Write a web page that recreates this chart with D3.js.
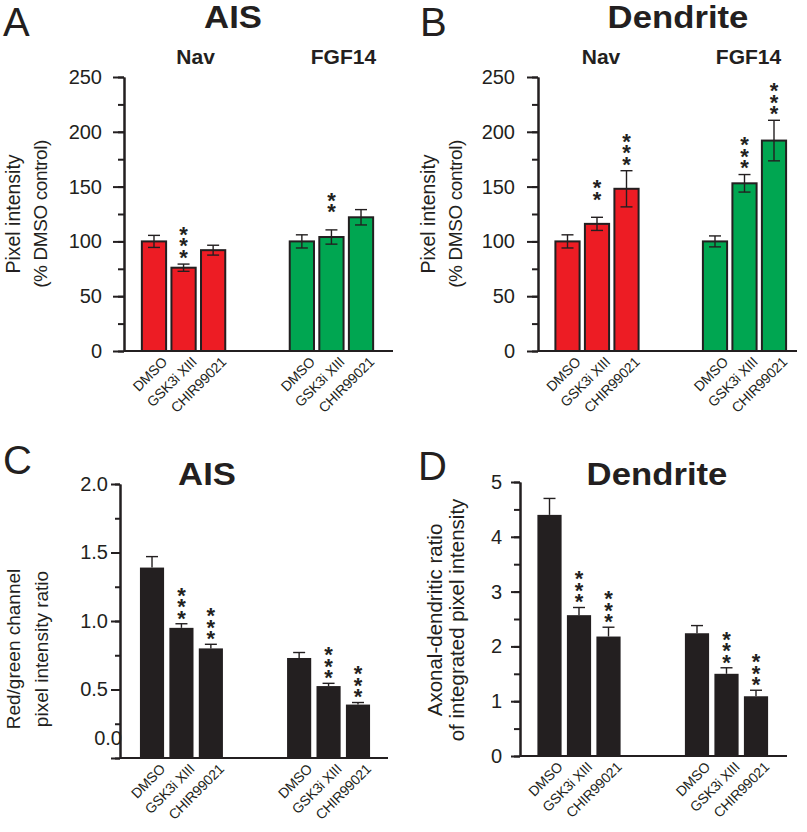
<!DOCTYPE html>
<html>
<head>
<meta charset="utf-8">
<script src="https://cdn.jsdelivr.net/npm/d3@7"></script>
<style>
  html, body { margin: 0; padding: 0; background: #fff; }
  svg { display: block; }
</style>
</head>
<body>
<div id="chart"></div>
<script>
// ── Data ─────────────────────────────────────────────────────────
const treatments = ["DMSO", "GSK3i XIII", "CHIR99021"];
const channels   = ["Nav", "FGF14"];

// A: AIS pixel intensity (% DMSO control), Nav x3 then FGF14 x3
const aisMean  = [100, 76, 92, 100, 104, 122];
const aisErr   = [5.5, 3.3, 4.5, 6, 6.5, 7];
const aisStars = [0, 3, 0, 0, 2, 0];

// B: Dendrite pixel intensity (% DMSO control)
const dendMean  = [100, 116, 148, 100, 153, 192];
const dendErr   = [6, 6, 16.5, 5, 8, 18.5];
const dendStars = [0, 2, 3, 0, 3, 3];

// C: AIS red/green channel ratio
const ratioMean  = [1.39, 0.95, 0.80, 0.73, 0.525, 0.39];
const ratioErr   = [0.08, 0.03, 0.03, 0.04, 0.02, 0.015];
const ratioStars = [0, 3, 3, 0, 3, 3];

// D: axonal-dendritic ratio
const axdMean  = [4.4, 2.57, 2.18, 2.24, 1.5, 1.09];
const axdErr   = [0.3, 0.14, 0.17, 0.14, 0.11, 0.11];
const axdStars = [0, 3, 3, 0, 3, 3];

const ticksPct   = [0, 50, 100, 150, 200, 250];
const ticksRatio = [0, 0.5, 1.0, 1.5, 2.0];
const ticksAxd   = [0, 1, 2, 3, 4, 5];

// ── Style ────────────────────────────────────────────────────────
const ink   = "#231f20";
const red   = "#ed1c24";
const green = "#00a651";
const font  = "'Liberation Sans', Arial, Helvetica, sans-serif";

const svg = d3.select("#chart").append("svg").attr("width", 807).attr("height", 832);

// 6 bars sit in 8 slots: two empty slots separate the groups
const slots = ["b0", "b1", "b2", "s0", "s1", "b3", "b4", "b5"];
const slotOf = i => "b" + i;

const panels = [
    { letter: "A", lx: 3, ly: 36, title: "AIS", tx: 233, ty: 28,
      mean: aisMean, err: aisErr, stars: aisStars, colored: true, twoSided: true,
      ticks: ticksPct, minor: 25, fmt: d3.format("d"),
      axisX: 124, axisEnd: 393, y0: 351, yTop: 77, xr: [139.2, 375.8],
      labelPad: 11, majorLen: 11, minorLen: 6,
      ylab: ["Pixel intensity", "(% DMSO control)"], ylabX: [20, 46.5], ylabY: 214,
      ylabSize: [19.5, 19], ylabLs: [0, -0.4],
      groupDx: 12, starGap: 12, starStep: 11.5 },
    { letter: "B", lx: 420, ly: 36, title: "Dendrite", tx: 678, ty: 28,
      mean: dendMean, err: dendErr, stars: dendStars, colored: true, twoSided: true,
      ticks: ticksPct, minor: 25, fmt: d3.format("d"),
      axisX: 538, axisEnd: 797, y0: 351, yTop: 77, xr: [552.75, 788.75],
      labelPad: 12, majorLen: 11, minorLen: 6,
      ylab: ["Pixel intensity", "(% DMSO control)"], ylabX: [435, 462], ylabY: 214,
      ylabSize: [19.5, 19], ylabLs: [0, -0.4],
      groupDx: 4, starGap: 12, starStep: 11.5 },
    { letter: "C", lx: 3, ly: 474, title: "AIS", tx: 207, ty: 485,
      mean: ratioMean, err: ratioErr, stars: ratioStars, colored: false, twoSided: false,
      ticks: ticksRatio, minor: 0.25, fmt: d3.format(".1f"),
      axisX: 120, axisEnd: 388, y0: 758, yTop: 484, xr: [137.3, 372.7],
      labelPad: 3, majorLen: 9, minorLen: 5, zeroShift: [14, -20],
      ylab: ["Red/green channel", "pixel intensity ratio"], ylabX: [20, 48], ylabY: 649,
      ylabSize: [19, 19], ylabLs: [0, 0],
      starGap: 11, starStep: 11.5 },
    { letter: "D", lx: 418, ly: 480, title: "Dendrite", tx: 657, ty: 485,
      mean: axdMean, err: axdErr, stars: axdStars, colored: false, twoSided: false,
      ticks: ticksAxd, minor: 0.5, fmt: d3.format("d"),
      axisX: 520, axisEnd: 787, y0: 756, yTop: 482, xr: [534.75, 770.75],
      labelPad: 9, majorLen: 9, minorLen: 6,
      ylab: ["Axonal-dendritic ratio", "of integrated pixel intensity"], ylabX: [442, 464], ylabY: 620,
      ylabSize: [20.5, 20.5], ylabLs: [0, 0],
      starGap: 11, starStep: 11.5 }
];

panels.forEach(drawPanel);

function drawPanel(p) {
    const g = svg.append("g");
    const yMax = d3.max(p.ticks);
    const y = d3.scaleLinear().domain([0, yMax]).range([p.y0, p.yTop]);
    const x = d3.scaleBand().domain(slots).range(p.xr).paddingInner(0.18).paddingOuter(0.09);
    const bw = x.bandwidth();
    const cx = i => x(slotOf(i)) + bw / 2;

    // panel letter + title (title stretched a little, like the heavy original face)
    g.append("text").attr("x", p.lx).attr("y", p.ly)
        .attr("font-family", font).attr("font-size", 40).attr("fill", ink)
        .text(p.letter);
    g.append("text").attr("transform", `translate(${p.tx},${p.ty}) scale(1.12,1)`)
        .attr("text-anchor", "middle")
        .attr("font-family", font).attr("font-size", 31).attr("font-weight", "bold")
        .attr("fill", ink)
        .text(p.title);

    // group labels (top row only)
    if (p.groupDx !== undefined) {
        channels.forEach((c, k) => {
            g.append("text").attr("x", cx(k * 3 + 1) + p.groupDx).attr("y", 64)
                .attr("text-anchor", "middle").attr("font-family", font)
                .attr("font-size", 21).attr("font-weight", "bold").attr("fill", ink)
                .text(c);
        });
    }

    const data = p.mean.map((m, i) => ({ i, m, e: p.err[i], s: p.stars[i] }));

    // bars
    g.append("g").selectAll("rect").data(data).enter().append("rect")
        .attr("x", d => x(slotOf(d.i)))
        .attr("y", d => y(d.m))
        .attr("width", bw)
        .attr("height", d => y(0) - y(d.m))
        .attr("fill", d => p.colored ? (d.i < 3 ? red : green) : ink)
        .attr("stroke", p.colored ? ink : "none")
        .attr("stroke-width", 2);

    // error bars
    const eb = g.append("g").attr("stroke", ink).attr("stroke-width", 1.4).attr("fill", "none");
    data.forEach(d => {
        const lo = p.twoSided ? d.m - d.e : d.m;
        const hi = d.m + d.e;
        const c = cx(d.i);
        eb.append("line").attr("x1", c).attr("x2", c).attr("y1", y(lo)).attr("y2", y(hi));
        eb.append("line").attr("x1", c - 6).attr("x2", c + 6).attr("y1", y(hi)).attr("y2", y(hi));
        if (p.twoSided)
            eb.append("line").attr("x1", c - 6).attr("x2", c + 6).attr("y1", y(lo)).attr("y2", y(lo));
    });

    // significance stars: one string per stack, laid out downward,
    // each glyph turned back upright with the per-glyph rotate attribute
    const fs = 22, adv = 0.389 * fs;
    data.filter(d => d.s > 0).forEach(d => {
        const top = y(d.m + d.e) - p.starGap - 2 * p.starStep;   // centre of top star
        g.append("text")
            .attr("transform", `translate(${cx(d.i) - adv / 2},${top + fs * 0.585}) rotate(90)`)
            .attr("rotate", -90)
            .attr("letter-spacing", p.starStep - adv)
            .attr("font-family", font).attr("font-size", fs).attr("font-weight", "bold")
            .attr("fill", ink)
            .text("*".repeat(d.s));
    });

    // x axis baseline
    g.append("line").attr("x1", p.axisX).attr("x2", p.axisEnd)
        .attr("y1", p.y0).attr("y2", p.y0)
        .attr("stroke", ink).attr("stroke-width", 2);

    // y axis: minor ticks then major ticks with labels
    const minorVals = d3.range(0, yMax + 1e-9, p.minor);
    const minorAx = g.append("g").attr("transform", `translate(${p.axisX},0)`)
        .call(d3.axisLeft(y).tickValues(minorVals).tickSize(p.minorLen).tickSizeOuter(0).tickFormat(""));
    const majorAx = g.append("g").attr("transform", `translate(${p.axisX},0)`)
        .call(d3.axisLeft(y).tickValues(p.ticks).tickSize(p.majorLen).tickSizeOuter(0)
            .tickPadding(p.labelPad).tickFormat(p.fmt));
    [minorAx, majorAx].forEach(ax => {
        ax.selectAll("line, path").attr("stroke", ink).attr("stroke-width", 2);
    });
    majorAx.selectAll("text").attr("font-family", font).attr("font-size", 20).attr("fill", ink);
    if (p.zeroShift) {
        majorAx.selectAll(".tick").filter(v => v === 0).select("text")
            .attr("transform", `translate(${p.zeroShift[0]},${p.zeroShift[1]})`);
    }

    // y axis title (two lines)
    p.ylab.forEach((t, k) => {
        g.append("text")
            .attr("transform", `translate(${p.ylabX[k]},${p.ylabY}) rotate(-90)`)
            .attr("text-anchor", "middle").attr("font-family", font)
            .attr("font-size", p.ylabSize[k]).attr("letter-spacing", p.ylabLs[k]).attr("fill", ink)
            .text(t);
    });

    // rotated treatment labels
    data.forEach(d => {
        g.append("text")
            .attr("transform", `translate(${cx(d.i) + 14},${p.y0 + 12}) rotate(-45)`)
            .attr("text-anchor", "end").attr("font-family", font)
            .attr("font-size", 14).attr("letter-spacing", -0.2).attr("fill", ink)
            .text(treatments[d.i % 3]);
    });
}
</script>
</body>
</html>
